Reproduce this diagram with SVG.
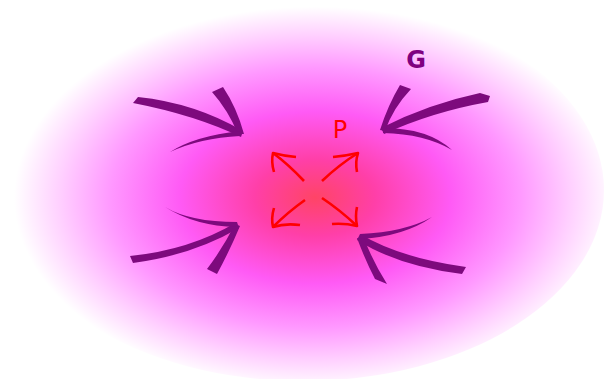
<svg xmlns="http://www.w3.org/2000/svg" width="605" height="379" viewBox="0 0 605 379">
<defs>
<radialGradient id="bg" cx="0.52" cy="0.52" r="0.5">
<stop offset="0" stop-color="#ff4466"/>
<stop offset="0.2" stop-color="#ff3fa8"/>
<stop offset="0.45" stop-color="#ff5af5"/>
<stop offset="0.68" stop-color="#ff98ff"/>
<stop offset="0.85" stop-color="#ffd0ff"/>
<stop offset="1" stop-color="#ffffff"/>
</radialGradient>
<style>
.g{fill:#7d0a7d}
.r{fill:none;stroke:#ff0000;stroke-width:2.6;stroke-linecap:butt;stroke-linejoin:round}
.lbl{font-family:"DejaVu Sans",sans-serif;font-size:24px;text-anchor:middle}
</style>
</defs>
<rect width="605" height="379" fill="#ffffff"/>
<ellipse id="field" cx="303" cy="190" rx="301" ry="191" fill="url(#bg)"/>
<g id="connectors">
<g id="gravity-tl" class="g">
<path d="M138,97 Q195,103 243,131 L241,137 Q195,115 133,103 Z"/>
<path d="M212,92 L223,87 Q237,108 244,134 L238,134 Q228,110 212,92 Z"/>
<path d="M170,152 Q195,136 240,131 L240,136 Q200,138 170,152 Z"/>
</g>
<g id="gravity-tr" class="g">
<path d="M480,93 L490,96 L488,102 Q432,112 384,134 L381,128 Q428,104 480,93 Z"/>
<path d="M400,85 L411,89 Q393,108 385,131 L380,130 Q388,105 400,85 Z"/>
<path d="M452,150 Q425,134 383,133 L383,128 Q428,128 452,150 Z"/>
</g>
<g id="gravity-bl" class="g">
<path d="M130,256 Q190,250 237,222 L239,228 Q193,255 133,263 Z"/>
<path d="M207,269 L217,274 Q230,250 240,226 L235,224 Q223,248 207,269 Z"/>
<path d="M165,207 Q190,222 237,222 L237,227 Q195,226 165,207 Z"/>
</g>
<g id="gravity-br" class="g">
<path d="M360,234 Q400,258 466,267 L462,274 Q398,266 357,240 Z"/>
<path d="M375,279 L387,284 Q372,260 364,238 L357,238 Q366,262 375,279 Z"/>
<path d="M432,217 Q405,232 360,234 L361,239 Q405,236 432,217 Z"/>
</g>
<g id="pressure" class="r">
<path d="M304,181 Q288,164 273,153"/>
<path d="M274,172 Q271,162 273,153 Q284,156 296,157"/>
<path d="M322,181 Q340,164 358,153"/>
<path d="M333,157 Q345,156 358,153 Q355,162 357,172"/>
<path d="M305,200 Q288,212 273,227"/>
<path d="M274,208 Q271,218 273,227 Q285,223 300,225"/>
<path d="M322,198 Q340,210 357,226"/>
<path d="M357,207 Q355,216 357,226 Q345,223 332,224"/>
</g>
</g>
<g id="label-P"><text class="lbl" x="340" y="138" fill="#ff0000">P</text></g>
<g id="label-G"><text class="lbl" x="416" y="68" fill="#800080" font-weight="bold">G</text></g>
</svg>
